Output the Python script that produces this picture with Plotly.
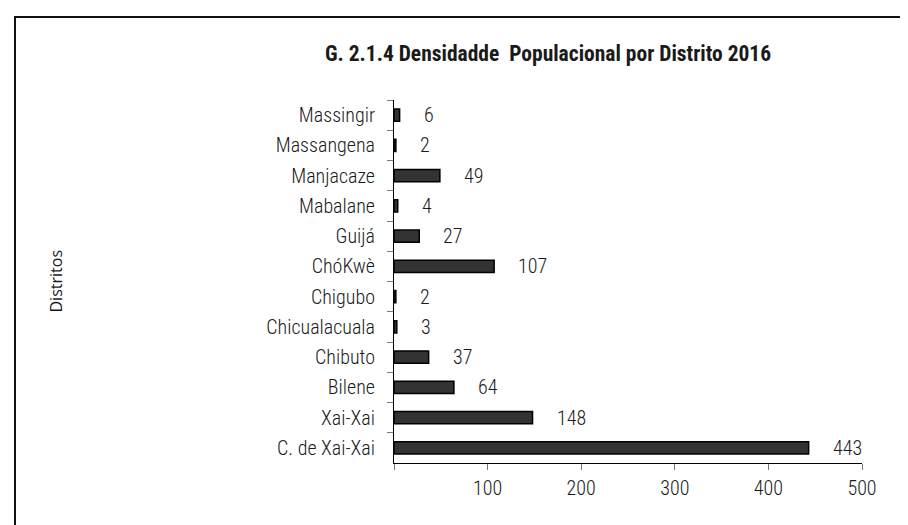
import plotly.graph_objects as go

districts = ["Massingir", "Massangena", "Manjacaze", "Mabalane", "Guijá", "ChóKwè",
             "Chigubo", "Chicualacuala", "Chibuto", "Bilene", "Xai-Xai", "C. de Xai-Xai"]
density = [6, 2, 49, 4, 27, 107, 2, 3, 37, 64, 148, 443]
x_tickvals = [0, 100, 200, 300, 400, 500]
x_ticktext = ["", "100", "200", "300", "400", "500"]

title_text = "G. 2.1.4 Densidadde  Populacional por Distrito 2016"
y_title = "Distritos"

NARROW = "Liberation Sans Narrow, Arial Narrow, Roboto Condensed, sans-serif"
TXT = "#1a1a1a"
W, H = 908, 525
L, R, T, B = 386, 54, 92, 70
pw, ph = W - L - R, H - T - B

fig = go.Figure()
fig.add_trace(go.Bar(
    x=density, y=districts, orientation="h",
    marker=dict(color="#333333", line=dict(color="#000000", width=1.5)),
    hoverinfo="x+y",
))

for d, v in zip(districts, density):
    fig.add_annotation(x=v, y=d, xref="x", yref="y", text=str(v), showarrow=False,
                       xanchor="left", yanchor="middle", xshift=22,
                       font=dict(family=NARROW, size=20, color=TXT, weight=300))

def px_x(p):
    return (p - L) / pw

def px_y(p):
    return (H - B - p) / ph

# outer chart border
fig.add_shape(type="rect", xref="paper", yref="paper",
              x0=px_x(7), x1=px_x(W + 20), y0=px_y(H + 20), y1=px_y(9),
              line=dict(color="#111111", width=2), fillcolor="rgba(0,0,0,0)", layer="above")

fig.add_annotation(text=y_title, xref="paper", yref="paper", x=px_x(47), y=0.5,
                   textangle=-90, showarrow=False, xanchor="center", yanchor="middle",
                   font=dict(family="Open Sans, sans-serif", size=16, color=TXT))

fig.update_layout(
    width=W, height=H,
    margin=dict(l=L, r=R, t=T, b=B, pad=0),
    paper_bgcolor="white", plot_bgcolor="white",
    bargap=0.6,
    showlegend=False,
    title=dict(text="<b>" + title_text + "</b>", x=px_x(540), xref="paper", xanchor="center",
               y=1 - 45 / H, yref="container", yanchor="middle",
               font=dict(family=NARROW, size=21.5, color=TXT)),
    xaxis=dict(range=[0, 500], tickvals=x_tickvals, ticktext=x_ticktext,
               showgrid=False, zeroline=False, showline=True, linecolor="black", linewidth=1,
               ticks="outside", ticklen=6, tickcolor="#777777", tickwidth=1,
               ticklabelstandoff=1,
               tickfont=dict(family=NARROW, size=20, color=TXT, weight=300)),
    yaxis=dict(categoryorder="array", categoryarray=districts, autorange="reversed",
               showgrid=False, zeroline=False, showline=True, linecolor="black", linewidth=1,
               ticks="outside", ticklen=6, tickcolor="#777777", tickwidth=1,
               tickson="boundaries", ticklabelstandoff=14,
               tickfont=dict(family=NARROW, size=20, color=TXT, weight=300)),
)

fig.write_html("out.html")
